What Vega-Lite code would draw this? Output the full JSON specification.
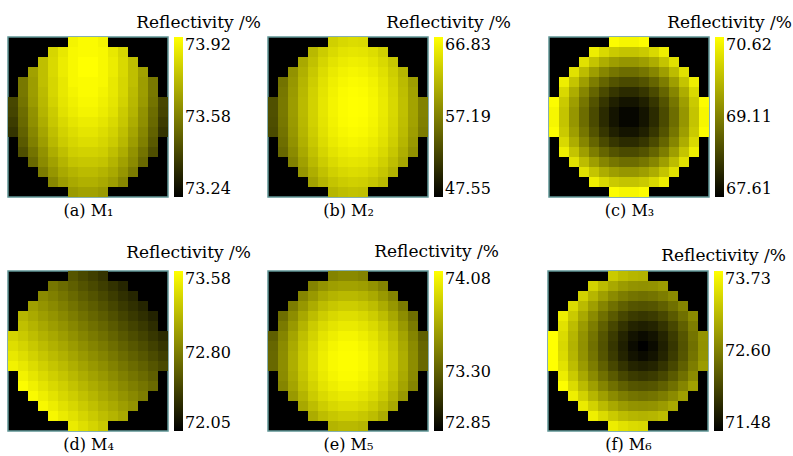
{
"$schema":"https://vega.github.io/schema/vega-lite/v6.json",
"background":"white",
"padding":{"left":7,"top":13,"right":0,"bottom":2},
"config":{
 "font":"DejaVu Serif",
 "view":{"fill":"#000000","stroke":"#5f9595","strokeWidth":1.5},
 "title":{"font":"DejaVu Serif","fontSize":17,"fontWeight":"normal","color":"#000000"},
 "axis":{"labels":false,"ticks":false,"domain":false,"grid":false,"titleFont":"DejaVu Serif","titleFontSize":16,"titleFontWeight":"normal","titleColor":"#000000","titlePadding":5},
 "legend":{"orient":"right","offset":6,"padding":0,"gradientLength":160,"gradientThickness":9,"gradientStrokeWidth":0,"labelFont":"DejaVu Serif","labelFontSize":16,"labelColor":"#000000","labelOffset":7,"labelOverlap":false}
},
"datasets":{
"a":[
{"x":6,"y":0,"v":73.89},{"x":7,"y":0,"v":73.91},{"x":8,"y":0,"v":73.91},{"x":9,"y":0,"v":73.89},
{"x":4,"y":1,"v":73.81},{"x":5,"y":1,"v":73.86},{"x":6,"y":1,"v":73.90},{"x":7,"y":1,"v":73.91},{"x":8,"y":1,"v":73.91},{"x":9,"y":1,"v":73.90},{"x":10,"y":1,"v":73.86},{"x":11,"y":1,"v":73.81},
{"x":3,"y":2,"v":73.75},{"x":4,"y":2,"v":73.82},{"x":5,"y":2,"v":73.87},{"x":6,"y":2,"v":73.90},{"x":7,"y":2,"v":73.92},{"x":8,"y":2,"v":73.92},{"x":9,"y":2,"v":73.90},{"x":10,"y":2,"v":73.87},{"x":11,"y":2,"v":73.82},{"x":12,"y":2,"v":73.75},
{"x":2,"y":3,"v":73.67},{"x":3,"y":3,"v":73.75},{"x":4,"y":3,"v":73.82},{"x":5,"y":3,"v":73.87},{"x":6,"y":3,"v":73.90},{"x":7,"y":3,"v":73.92},{"x":8,"y":3,"v":73.92},{"x":9,"y":3,"v":73.90},{"x":10,"y":3,"v":73.87},{"x":11,"y":3,"v":73.82},{"x":12,"y":3,"v":73.75},{"x":13,"y":3,"v":73.67},
{"x":1,"y":4,"v":73.56},{"x":2,"y":4,"v":73.66},{"x":3,"y":4,"v":73.75},{"x":4,"y":4,"v":73.81},{"x":5,"y":4,"v":73.86},{"x":6,"y":4,"v":73.90},{"x":7,"y":4,"v":73.91},{"x":8,"y":4,"v":73.91},{"x":9,"y":4,"v":73.90},{"x":10,"y":4,"v":73.86},{"x":11,"y":4,"v":73.81},{"x":12,"y":4,"v":73.75},{"x":13,"y":4,"v":73.66},{"x":14,"y":4,"v":73.56},
{"x":1,"y":5,"v":73.56},{"x":2,"y":5,"v":73.66},{"x":3,"y":5,"v":73.74},{"x":4,"y":5,"v":73.81},{"x":5,"y":5,"v":73.86},{"x":6,"y":5,"v":73.89},{"x":7,"y":5,"v":73.91},{"x":8,"y":5,"v":73.91},{"x":9,"y":5,"v":73.89},{"x":10,"y":5,"v":73.86},{"x":11,"y":5,"v":73.81},{"x":12,"y":5,"v":73.74},{"x":13,"y":5,"v":73.66},{"x":14,"y":5,"v":73.56},
{"x":0,"y":6,"v":73.43},{"x":1,"y":6,"v":73.55},{"x":2,"y":6,"v":73.65},{"x":3,"y":6,"v":73.73},{"x":4,"y":6,"v":73.80},{"x":5,"y":6,"v":73.85},{"x":6,"y":6,"v":73.88},{"x":7,"y":6,"v":73.90},{"x":8,"y":6,"v":73.90},{"x":9,"y":6,"v":73.88},{"x":10,"y":6,"v":73.85},{"x":11,"y":6,"v":73.80},{"x":12,"y":6,"v":73.73},{"x":13,"y":6,"v":73.65},{"x":14,"y":6,"v":73.55},{"x":15,"y":6,"v":73.43},
{"x":0,"y":7,"v":73.42},{"x":1,"y":7,"v":73.53},{"x":2,"y":7,"v":73.63},{"x":3,"y":7,"v":73.72},{"x":4,"y":7,"v":73.78},{"x":5,"y":7,"v":73.84},{"x":6,"y":7,"v":73.87},{"x":7,"y":7,"v":73.89},{"x":8,"y":7,"v":73.89},{"x":9,"y":7,"v":73.87},{"x":10,"y":7,"v":73.84},{"x":11,"y":7,"v":73.78},{"x":12,"y":7,"v":73.72},{"x":13,"y":7,"v":73.63},{"x":14,"y":7,"v":73.53},{"x":15,"y":7,"v":73.42},
{"x":0,"y":8,"v":73.40},{"x":1,"y":8,"v":73.52},{"x":2,"y":8,"v":73.62},{"x":3,"y":8,"v":73.70},{"x":4,"y":8,"v":73.77},{"x":5,"y":8,"v":73.82},{"x":6,"y":8,"v":73.85},{"x":7,"y":8,"v":73.87},{"x":8,"y":8,"v":73.87},{"x":9,"y":8,"v":73.85},{"x":10,"y":8,"v":73.82},{"x":11,"y":8,"v":73.77},{"x":12,"y":8,"v":73.70},{"x":13,"y":8,"v":73.62},{"x":14,"y":8,"v":73.52},{"x":15,"y":8,"v":73.40},
{"x":0,"y":9,"v":73.38},{"x":1,"y":9,"v":73.50},{"x":2,"y":9,"v":73.60},{"x":3,"y":9,"v":73.68},{"x":4,"y":9,"v":73.75},{"x":5,"y":9,"v":73.80},{"x":6,"y":9,"v":73.83},{"x":7,"y":9,"v":73.85},{"x":8,"y":9,"v":73.85},{"x":9,"y":9,"v":73.83},{"x":10,"y":9,"v":73.80},{"x":11,"y":9,"v":73.75},{"x":12,"y":9,"v":73.68},{"x":13,"y":9,"v":73.60},{"x":14,"y":9,"v":73.50},{"x":15,"y":9,"v":73.38},
{"x":1,"y":10,"v":73.48},{"x":2,"y":10,"v":73.58},{"x":3,"y":10,"v":73.66},{"x":4,"y":10,"v":73.73},{"x":5,"y":10,"v":73.78},{"x":6,"y":10,"v":73.81},{"x":7,"y":10,"v":73.83},{"x":8,"y":10,"v":73.83},{"x":9,"y":10,"v":73.81},{"x":10,"y":10,"v":73.78},{"x":11,"y":10,"v":73.73},{"x":12,"y":10,"v":73.66},{"x":13,"y":10,"v":73.58},{"x":14,"y":10,"v":73.48},
{"x":1,"y":11,"v":73.45},{"x":2,"y":11,"v":73.55},{"x":3,"y":11,"v":73.63},{"x":4,"y":11,"v":73.70},{"x":5,"y":11,"v":73.75},{"x":6,"y":11,"v":73.79},{"x":7,"y":11,"v":73.80},{"x":8,"y":11,"v":73.80},{"x":9,"y":11,"v":73.79},{"x":10,"y":11,"v":73.75},{"x":11,"y":11,"v":73.70},{"x":12,"y":11,"v":73.63},{"x":13,"y":11,"v":73.55},{"x":14,"y":11,"v":73.45},
{"x":2,"y":12,"v":73.52},{"x":3,"y":12,"v":73.61},{"x":4,"y":12,"v":73.67},{"x":5,"y":12,"v":73.72},{"x":6,"y":12,"v":73.76},{"x":7,"y":12,"v":73.77},{"x":8,"y":12,"v":73.77},{"x":9,"y":12,"v":73.76},{"x":10,"y":12,"v":73.72},{"x":11,"y":12,"v":73.67},{"x":12,"y":12,"v":73.61},{"x":13,"y":12,"v":73.52},
{"x":3,"y":13,"v":73.57},{"x":4,"y":13,"v":73.64},{"x":5,"y":13,"v":73.69},{"x":6,"y":13,"v":73.72},{"x":7,"y":13,"v":73.74},{"x":8,"y":13,"v":73.74},{"x":9,"y":13,"v":73.72},{"x":10,"y":13,"v":73.69},{"x":11,"y":13,"v":73.64},{"x":12,"y":13,"v":73.57},
{"x":4,"y":14,"v":73.60},{"x":5,"y":14,"v":73.66},{"x":6,"y":14,"v":73.69},{"x":7,"y":14,"v":73.71},{"x":8,"y":14,"v":73.71},{"x":9,"y":14,"v":73.69},{"x":10,"y":14,"v":73.66},{"x":11,"y":14,"v":73.60},
{"x":6,"y":15,"v":73.65},{"x":7,"y":15,"v":73.67},{"x":8,"y":15,"v":73.67},{"x":9,"y":15,"v":73.65}
],
"b":[
{"x":6,"y":0,"v":63.24},{"x":7,"y":0,"v":63.90},{"x":8,"y":0,"v":64.15},{"x":9,"y":0,"v":64.00},
{"x":4,"y":1,"v":61.51},{"x":5,"y":1,"v":62.97},{"x":6,"y":1,"v":64.03},{"x":7,"y":1,"v":64.69},{"x":8,"y":1,"v":64.94},{"x":9,"y":1,"v":64.79},{"x":10,"y":1,"v":64.25},{"x":11,"y":1,"v":63.28},
{"x":3,"y":2,"v":60.33},{"x":4,"y":2,"v":62.16},{"x":5,"y":2,"v":63.63},{"x":6,"y":2,"v":64.69},{"x":7,"y":2,"v":65.35},{"x":8,"y":2,"v":65.60},{"x":9,"y":2,"v":65.44},{"x":10,"y":2,"v":64.90},{"x":11,"y":2,"v":63.94},{"x":12,"y":2,"v":62.57},
{"x":2,"y":3,"v":58.58},{"x":3,"y":3,"v":60.85},{"x":4,"y":3,"v":62.69},{"x":5,"y":3,"v":64.15},{"x":6,"y":3,"v":65.21},{"x":7,"y":3,"v":65.87},{"x":8,"y":3,"v":66.12},{"x":9,"y":3,"v":65.96},{"x":10,"y":3,"v":65.42},{"x":11,"y":3,"v":64.46},{"x":12,"y":3,"v":63.09},{"x":13,"y":3,"v":61.32},
{"x":1,"y":4,"v":56.28},{"x":2,"y":4,"v":58.96},{"x":3,"y":4,"v":61.24},{"x":4,"y":4,"v":63.07},{"x":5,"y":4,"v":64.54},{"x":6,"y":4,"v":65.60},{"x":7,"y":4,"v":66.25},{"x":8,"y":4,"v":66.50},{"x":9,"y":4,"v":66.35},{"x":10,"y":4,"v":65.81},{"x":11,"y":4,"v":64.84},{"x":12,"y":4,"v":63.48},{"x":13,"y":4,"v":61.70},{"x":14,"y":4,"v":59.52},
{"x":1,"y":5,"v":56.54},{"x":2,"y":5,"v":59.22},{"x":3,"y":5,"v":61.49},{"x":4,"y":5,"v":63.32},{"x":5,"y":5,"v":64.79},{"x":6,"y":5,"v":65.85},{"x":7,"y":5,"v":66.50},{"x":8,"y":5,"v":66.75},{"x":9,"y":5,"v":66.60},{"x":10,"y":5,"v":66.06},{"x":11,"y":5,"v":65.10},{"x":12,"y":5,"v":63.73},{"x":13,"y":5,"v":61.95},{"x":14,"y":5,"v":59.77},
{"x":0,"y":6,"v":53.60},{"x":1,"y":6,"v":56.67},{"x":2,"y":6,"v":59.35},{"x":3,"y":6,"v":61.63},{"x":4,"y":6,"v":63.46},{"x":5,"y":6,"v":64.92},{"x":6,"y":6,"v":65.98},{"x":7,"y":6,"v":66.64},{"x":8,"y":6,"v":66.83},{"x":9,"y":6,"v":66.73},{"x":10,"y":6,"v":66.19},{"x":11,"y":6,"v":65.23},{"x":12,"y":6,"v":63.86},{"x":13,"y":6,"v":62.09},{"x":14,"y":6,"v":59.91},{"x":15,"y":6,"v":57.35},
{"x":0,"y":7,"v":53.60},{"x":1,"y":7,"v":56.67},{"x":2,"y":7,"v":59.35},{"x":3,"y":7,"v":61.63},{"x":4,"y":7,"v":63.46},{"x":5,"y":7,"v":64.92},{"x":6,"y":7,"v":65.98},{"x":7,"y":7,"v":66.64},{"x":8,"y":7,"v":66.83},{"x":9,"y":7,"v":66.73},{"x":10,"y":7,"v":66.19},{"x":11,"y":7,"v":65.23},{"x":12,"y":7,"v":63.86},{"x":13,"y":7,"v":62.09},{"x":14,"y":7,"v":59.91},{"x":15,"y":7,"v":57.35},
{"x":0,"y":8,"v":53.47},{"x":1,"y":8,"v":56.54},{"x":2,"y":8,"v":59.22},{"x":3,"y":8,"v":61.49},{"x":4,"y":8,"v":63.32},{"x":5,"y":8,"v":64.79},{"x":6,"y":8,"v":65.85},{"x":7,"y":8,"v":66.50},{"x":8,"y":8,"v":66.75},{"x":9,"y":8,"v":66.60},{"x":10,"y":8,"v":66.06},{"x":11,"y":8,"v":65.10},{"x":12,"y":8,"v":63.73},{"x":13,"y":8,"v":61.95},{"x":14,"y":8,"v":59.77},{"x":15,"y":8,"v":57.21},
{"x":0,"y":9,"v":53.22},{"x":1,"y":9,"v":56.28},{"x":2,"y":9,"v":58.96},{"x":3,"y":9,"v":61.24},{"x":4,"y":9,"v":63.07},{"x":5,"y":9,"v":64.54},{"x":6,"y":9,"v":65.60},{"x":7,"y":9,"v":66.25},{"x":8,"y":9,"v":66.50},{"x":9,"y":9,"v":66.35},{"x":10,"y":9,"v":65.81},{"x":11,"y":9,"v":64.84},{"x":12,"y":9,"v":63.48},{"x":13,"y":9,"v":61.70},{"x":14,"y":9,"v":59.52},{"x":15,"y":9,"v":56.96},
{"x":1,"y":10,"v":55.90},{"x":2,"y":10,"v":58.58},{"x":3,"y":10,"v":60.85},{"x":4,"y":10,"v":62.69},{"x":5,"y":10,"v":64.15},{"x":6,"y":10,"v":65.21},{"x":7,"y":10,"v":65.87},{"x":8,"y":10,"v":66.12},{"x":9,"y":10,"v":65.96},{"x":10,"y":10,"v":65.42},{"x":11,"y":10,"v":64.46},{"x":12,"y":10,"v":63.09},{"x":13,"y":10,"v":61.32},{"x":14,"y":10,"v":59.14},
{"x":1,"y":11,"v":55.38},{"x":2,"y":11,"v":58.06},{"x":3,"y":11,"v":60.33},{"x":4,"y":11,"v":62.16},{"x":5,"y":11,"v":63.63},{"x":6,"y":11,"v":64.69},{"x":7,"y":11,"v":65.35},{"x":8,"y":11,"v":65.60},{"x":9,"y":11,"v":65.44},{"x":10,"y":11,"v":64.90},{"x":11,"y":11,"v":63.94},{"x":12,"y":11,"v":62.57},{"x":13,"y":11,"v":60.80},{"x":14,"y":11,"v":58.62},
{"x":2,"y":12,"v":57.40},{"x":3,"y":12,"v":59.68},{"x":4,"y":12,"v":61.51},{"x":5,"y":12,"v":62.97},{"x":6,"y":12,"v":64.03},{"x":7,"y":12,"v":64.69},{"x":8,"y":12,"v":64.94},{"x":9,"y":12,"v":64.79},{"x":10,"y":12,"v":64.25},{"x":11,"y":12,"v":63.28},{"x":12,"y":12,"v":61.91},{"x":13,"y":12,"v":60.14},
{"x":3,"y":13,"v":58.89},{"x":4,"y":13,"v":60.72},{"x":5,"y":13,"v":62.18},{"x":6,"y":13,"v":63.24},{"x":7,"y":13,"v":63.90},{"x":8,"y":13,"v":64.15},{"x":9,"y":13,"v":64.00},{"x":10,"y":13,"v":63.46},{"x":11,"y":13,"v":62.49},{"x":12,"y":13,"v":61.12},
{"x":4,"y":14,"v":59.81},{"x":5,"y":14,"v":61.28},{"x":6,"y":14,"v":62.34},{"x":7,"y":14,"v":62.99},{"x":8,"y":14,"v":63.24},{"x":9,"y":14,"v":63.09},{"x":10,"y":14,"v":62.55},{"x":11,"y":14,"v":61.59},
{"x":6,"y":15,"v":61.30},{"x":7,"y":15,"v":61.95},{"x":8,"y":15,"v":62.20},{"x":9,"y":15,"v":62.05}
],
"c":[
{"x":6,"y":0,"v":70.59},{"x":7,"y":0,"v":70.51},{"x":8,"y":0,"v":70.51},{"x":9,"y":0,"v":70.59},
{"x":4,"y":1,"v":70.42},{"x":5,"y":1,"v":70.17},{"x":6,"y":1,"v":70.00},{"x":7,"y":1,"v":69.92},{"x":8,"y":1,"v":69.92},{"x":9,"y":1,"v":70.00},{"x":10,"y":1,"v":70.17},{"x":11,"y":1,"v":70.42},
{"x":3,"y":2,"v":70.26},{"x":4,"y":2,"v":69.92},{"x":5,"y":2,"v":69.65},{"x":6,"y":2,"v":69.47},{"x":7,"y":2,"v":69.38},{"x":8,"y":2,"v":69.38},{"x":9,"y":2,"v":69.47},{"x":10,"y":2,"v":69.65},{"x":11,"y":2,"v":69.92},{"x":12,"y":2,"v":70.26},
{"x":2,"y":3,"v":70.26},{"x":3,"y":3,"v":69.83},{"x":4,"y":3,"v":69.47},{"x":5,"y":3,"v":69.19},{"x":6,"y":3,"v":69.00},{"x":7,"y":3,"v":68.90},{"x":8,"y":3,"v":68.90},{"x":9,"y":3,"v":69.00},{"x":10,"y":3,"v":69.19},{"x":11,"y":3,"v":69.47},{"x":12,"y":3,"v":69.83},{"x":13,"y":3,"v":70.26},
{"x":1,"y":4,"v":70.42},{"x":2,"y":4,"v":69.92},{"x":3,"y":4,"v":69.47},{"x":4,"y":4,"v":69.09},{"x":5,"y":4,"v":68.80},{"x":6,"y":4,"v":68.59},{"x":7,"y":4,"v":68.48},{"x":8,"y":4,"v":68.48},{"x":9,"y":4,"v":68.59},{"x":10,"y":4,"v":68.80},{"x":11,"y":4,"v":69.09},{"x":12,"y":4,"v":69.47},{"x":13,"y":4,"v":69.92},{"x":14,"y":4,"v":70.42},
{"x":1,"y":5,"v":70.17},{"x":2,"y":5,"v":69.65},{"x":3,"y":5,"v":69.19},{"x":4,"y":5,"v":68.80},{"x":5,"y":5,"v":68.48},{"x":6,"y":5,"v":68.25},{"x":7,"y":5,"v":68.12},{"x":8,"y":5,"v":68.12},{"x":9,"y":5,"v":68.25},{"x":10,"y":5,"v":68.48},{"x":11,"y":5,"v":68.80},{"x":12,"y":5,"v":69.19},{"x":13,"y":5,"v":69.65},{"x":14,"y":5,"v":70.17},
{"x":0,"y":6,"v":70.59},{"x":1,"y":6,"v":70.00},{"x":2,"y":6,"v":69.47},{"x":3,"y":6,"v":69.00},{"x":4,"y":6,"v":68.59},{"x":5,"y":6,"v":68.25},{"x":6,"y":6,"v":67.99},{"x":7,"y":6,"v":67.85},{"x":8,"y":6,"v":67.85},{"x":9,"y":6,"v":67.99},{"x":10,"y":6,"v":68.25},{"x":11,"y":6,"v":68.59},{"x":12,"y":6,"v":69.00},{"x":13,"y":6,"v":69.47},{"x":14,"y":6,"v":70.00},{"x":15,"y":6,"v":70.59},
{"x":0,"y":7,"v":70.51},{"x":1,"y":7,"v":69.92},{"x":2,"y":7,"v":69.38},{"x":3,"y":7,"v":68.90},{"x":4,"y":7,"v":68.48},{"x":5,"y":7,"v":68.12},{"x":6,"y":7,"v":67.85},{"x":7,"y":7,"v":67.68},{"x":8,"y":7,"v":67.68},{"x":9,"y":7,"v":67.85},{"x":10,"y":7,"v":68.12},{"x":11,"y":7,"v":68.48},{"x":12,"y":7,"v":68.90},{"x":13,"y":7,"v":69.38},{"x":14,"y":7,"v":69.92},{"x":15,"y":7,"v":70.51},
{"x":0,"y":8,"v":70.51},{"x":1,"y":8,"v":69.92},{"x":2,"y":8,"v":69.38},{"x":3,"y":8,"v":68.90},{"x":4,"y":8,"v":68.48},{"x":5,"y":8,"v":68.12},{"x":6,"y":8,"v":67.85},{"x":7,"y":8,"v":67.68},{"x":8,"y":8,"v":67.68},{"x":9,"y":8,"v":67.85},{"x":10,"y":8,"v":68.12},{"x":11,"y":8,"v":68.48},{"x":12,"y":8,"v":68.90},{"x":13,"y":8,"v":69.38},{"x":14,"y":8,"v":69.92},{"x":15,"y":8,"v":70.51},
{"x":0,"y":9,"v":70.59},{"x":1,"y":9,"v":70.00},{"x":2,"y":9,"v":69.47},{"x":3,"y":9,"v":69.00},{"x":4,"y":9,"v":68.59},{"x":5,"y":9,"v":68.25},{"x":6,"y":9,"v":67.99},{"x":7,"y":9,"v":67.85},{"x":8,"y":9,"v":67.85},{"x":9,"y":9,"v":67.99},{"x":10,"y":9,"v":68.25},{"x":11,"y":9,"v":68.59},{"x":12,"y":9,"v":69.00},{"x":13,"y":9,"v":69.47},{"x":14,"y":9,"v":70.00},{"x":15,"y":9,"v":70.59},
{"x":1,"y":10,"v":70.17},{"x":2,"y":10,"v":69.65},{"x":3,"y":10,"v":69.19},{"x":4,"y":10,"v":68.80},{"x":5,"y":10,"v":68.48},{"x":6,"y":10,"v":68.25},{"x":7,"y":10,"v":68.12},{"x":8,"y":10,"v":68.12},{"x":9,"y":10,"v":68.25},{"x":10,"y":10,"v":68.48},{"x":11,"y":10,"v":68.80},{"x":12,"y":10,"v":69.19},{"x":13,"y":10,"v":69.65},{"x":14,"y":10,"v":70.17},
{"x":1,"y":11,"v":70.42},{"x":2,"y":11,"v":69.92},{"x":3,"y":11,"v":69.47},{"x":4,"y":11,"v":69.09},{"x":5,"y":11,"v":68.80},{"x":6,"y":11,"v":68.59},{"x":7,"y":11,"v":68.48},{"x":8,"y":11,"v":68.48},{"x":9,"y":11,"v":68.59},{"x":10,"y":11,"v":68.80},{"x":11,"y":11,"v":69.09},{"x":12,"y":11,"v":69.47},{"x":13,"y":11,"v":69.92},{"x":14,"y":11,"v":70.42},
{"x":2,"y":12,"v":70.26},{"x":3,"y":12,"v":69.83},{"x":4,"y":12,"v":69.47},{"x":5,"y":12,"v":69.19},{"x":6,"y":12,"v":69.00},{"x":7,"y":12,"v":68.90},{"x":8,"y":12,"v":68.90},{"x":9,"y":12,"v":69.00},{"x":10,"y":12,"v":69.19},{"x":11,"y":12,"v":69.47},{"x":12,"y":12,"v":69.83},{"x":13,"y":12,"v":70.26},
{"x":3,"y":13,"v":70.26},{"x":4,"y":13,"v":69.92},{"x":5,"y":13,"v":69.65},{"x":6,"y":13,"v":69.47},{"x":7,"y":13,"v":69.38},{"x":8,"y":13,"v":69.38},{"x":9,"y":13,"v":69.47},{"x":10,"y":13,"v":69.65},{"x":11,"y":13,"v":69.92},{"x":12,"y":13,"v":70.26},
{"x":4,"y":14,"v":70.42},{"x":5,"y":14,"v":70.17},{"x":6,"y":14,"v":70.00},{"x":7,"y":14,"v":69.92},{"x":8,"y":14,"v":69.92},{"x":9,"y":14,"v":70.00},{"x":10,"y":14,"v":70.17},{"x":11,"y":14,"v":70.42},
{"x":6,"y":15,"v":70.59},{"x":7,"y":15,"v":70.51},{"x":8,"y":15,"v":70.51},{"x":9,"y":15,"v":70.59}
],
"d":[
{"x":6,"y":0,"v":72.56},{"x":7,"y":0,"v":72.49},{"x":8,"y":0,"v":72.43},{"x":9,"y":0,"v":72.36},
{"x":4,"y":1,"v":72.76},{"x":5,"y":1,"v":72.69},{"x":6,"y":1,"v":72.62},{"x":7,"y":1,"v":72.55},{"x":8,"y":1,"v":72.49},{"x":9,"y":1,"v":72.42},{"x":10,"y":1,"v":72.35},{"x":11,"y":1,"v":72.28},
{"x":3,"y":2,"v":72.88},{"x":4,"y":2,"v":72.82},{"x":5,"y":2,"v":72.75},{"x":6,"y":2,"v":72.68},{"x":7,"y":2,"v":72.61},{"x":8,"y":2,"v":72.55},{"x":9,"y":2,"v":72.48},{"x":10,"y":2,"v":72.41},{"x":11,"y":2,"v":72.34},{"x":12,"y":2,"v":72.28},
{"x":2,"y":3,"v":73.01},{"x":3,"y":3,"v":72.94},{"x":4,"y":3,"v":72.88},{"x":5,"y":3,"v":72.81},{"x":6,"y":3,"v":72.74},{"x":7,"y":3,"v":72.67},{"x":8,"y":3,"v":72.61},{"x":9,"y":3,"v":72.54},{"x":10,"y":3,"v":72.47},{"x":11,"y":3,"v":72.40},{"x":12,"y":3,"v":72.34},{"x":13,"y":3,"v":72.27},
{"x":1,"y":4,"v":73.14},{"x":2,"y":4,"v":73.07},{"x":3,"y":4,"v":73.00},{"x":4,"y":4,"v":72.94},{"x":5,"y":4,"v":72.87},{"x":6,"y":4,"v":72.80},{"x":7,"y":4,"v":72.73},{"x":8,"y":4,"v":72.66},{"x":9,"y":4,"v":72.60},{"x":10,"y":4,"v":72.53},{"x":11,"y":4,"v":72.46},{"x":12,"y":4,"v":72.39},{"x":13,"y":4,"v":72.33},{"x":14,"y":4,"v":72.26},
{"x":1,"y":5,"v":73.20},{"x":2,"y":5,"v":73.13},{"x":3,"y":5,"v":73.06},{"x":4,"y":5,"v":72.99},{"x":5,"y":5,"v":72.93},{"x":6,"y":5,"v":72.86},{"x":7,"y":5,"v":72.79},{"x":8,"y":5,"v":72.72},{"x":9,"y":5,"v":72.66},{"x":10,"y":5,"v":72.59},{"x":11,"y":5,"v":72.52},{"x":12,"y":5,"v":72.45},{"x":13,"y":5,"v":72.39},{"x":14,"y":5,"v":72.32},
{"x":0,"y":6,"v":73.32},{"x":1,"y":6,"v":73.26},{"x":2,"y":6,"v":73.19},{"x":3,"y":6,"v":73.12},{"x":4,"y":6,"v":73.06},{"x":5,"y":6,"v":72.99},{"x":6,"y":6,"v":72.92},{"x":7,"y":6,"v":72.85},{"x":8,"y":6,"v":72.78},{"x":9,"y":6,"v":72.72},{"x":10,"y":6,"v":72.65},{"x":11,"y":6,"v":72.58},{"x":12,"y":6,"v":72.51},{"x":13,"y":6,"v":72.45},{"x":14,"y":6,"v":72.38},{"x":15,"y":6,"v":72.31},
{"x":0,"y":7,"v":73.38},{"x":1,"y":7,"v":73.32},{"x":2,"y":7,"v":73.25},{"x":3,"y":7,"v":73.18},{"x":4,"y":7,"v":73.11},{"x":5,"y":7,"v":73.05},{"x":6,"y":7,"v":72.98},{"x":7,"y":7,"v":72.91},{"x":8,"y":7,"v":72.84},{"x":9,"y":7,"v":72.78},{"x":10,"y":7,"v":72.71},{"x":11,"y":7,"v":72.64},{"x":12,"y":7,"v":72.57},{"x":13,"y":7,"v":72.51},{"x":14,"y":7,"v":72.44},{"x":15,"y":7,"v":72.37},
{"x":0,"y":8,"v":73.44},{"x":1,"y":8,"v":73.38},{"x":2,"y":8,"v":73.31},{"x":3,"y":8,"v":73.24},{"x":4,"y":8,"v":73.17},{"x":5,"y":8,"v":73.11},{"x":6,"y":8,"v":73.04},{"x":7,"y":8,"v":72.97},{"x":8,"y":8,"v":72.90},{"x":9,"y":8,"v":72.84},{"x":10,"y":8,"v":72.77},{"x":11,"y":8,"v":72.70},{"x":12,"y":8,"v":72.63},{"x":13,"y":8,"v":72.57},{"x":14,"y":8,"v":72.50},{"x":15,"y":8,"v":72.43},
{"x":0,"y":9,"v":73.50},{"x":1,"y":9,"v":73.44},{"x":2,"y":9,"v":73.37},{"x":3,"y":9,"v":73.30},{"x":4,"y":9,"v":73.23},{"x":5,"y":9,"v":73.17},{"x":6,"y":9,"v":73.10},{"x":7,"y":9,"v":73.03},{"x":8,"y":9,"v":72.96},{"x":9,"y":9,"v":72.90},{"x":10,"y":9,"v":72.83},{"x":11,"y":9,"v":72.76},{"x":12,"y":9,"v":72.69},{"x":13,"y":9,"v":72.63},{"x":14,"y":9,"v":72.56},{"x":15,"y":9,"v":72.49},
{"x":1,"y":10,"v":73.50},{"x":2,"y":10,"v":73.43},{"x":3,"y":10,"v":73.36},{"x":4,"y":10,"v":73.29},{"x":5,"y":10,"v":73.23},{"x":6,"y":10,"v":73.16},{"x":7,"y":10,"v":73.09},{"x":8,"y":10,"v":73.02},{"x":9,"y":10,"v":72.96},{"x":10,"y":10,"v":72.89},{"x":11,"y":10,"v":72.82},{"x":12,"y":10,"v":72.75},{"x":13,"y":10,"v":72.69},{"x":14,"y":10,"v":72.62},
{"x":1,"y":11,"v":73.56},{"x":2,"y":11,"v":73.49},{"x":3,"y":11,"v":73.42},{"x":4,"y":11,"v":73.35},{"x":5,"y":11,"v":73.29},{"x":6,"y":11,"v":73.22},{"x":7,"y":11,"v":73.15},{"x":8,"y":11,"v":73.08},{"x":9,"y":11,"v":73.02},{"x":10,"y":11,"v":72.95},{"x":11,"y":11,"v":72.88},{"x":12,"y":11,"v":72.81},{"x":13,"y":11,"v":72.75},{"x":14,"y":11,"v":72.68},
{"x":2,"y":12,"v":73.55},{"x":3,"y":12,"v":73.48},{"x":4,"y":12,"v":73.41},{"x":5,"y":12,"v":73.34},{"x":6,"y":12,"v":73.28},{"x":7,"y":12,"v":73.21},{"x":8,"y":12,"v":73.14},{"x":9,"y":12,"v":73.07},{"x":10,"y":12,"v":73.01},{"x":11,"y":12,"v":72.94},{"x":12,"y":12,"v":72.87},{"x":13,"y":12,"v":72.80},
{"x":3,"y":13,"v":73.54},{"x":4,"y":13,"v":73.47},{"x":5,"y":13,"v":73.40},{"x":6,"y":13,"v":73.34},{"x":7,"y":13,"v":73.27},{"x":8,"y":13,"v":73.20},{"x":9,"y":13,"v":73.13},{"x":10,"y":13,"v":73.07},{"x":11,"y":13,"v":73.00},{"x":12,"y":13,"v":72.93},
{"x":4,"y":14,"v":73.53},{"x":5,"y":14,"v":73.46},{"x":6,"y":14,"v":73.40},{"x":7,"y":14,"v":73.33},{"x":8,"y":14,"v":73.26},{"x":9,"y":14,"v":73.19},{"x":10,"y":14,"v":73.13},{"x":11,"y":14,"v":73.06},
{"x":6,"y":15,"v":73.46},{"x":7,"y":15,"v":73.39},{"x":8,"y":15,"v":73.32},{"x":9,"y":15,"v":73.25}
],
"e":[
{"x":6,"y":0,"v":73.48},{"x":7,"y":0,"v":73.51},{"x":8,"y":0,"v":73.51},{"x":9,"y":0,"v":73.48},
{"x":4,"y":1,"v":73.48},{"x":5,"y":1,"v":73.56},{"x":6,"y":1,"v":73.61},{"x":7,"y":1,"v":73.63},{"x":8,"y":1,"v":73.63},{"x":9,"y":1,"v":73.61},{"x":10,"y":1,"v":73.56},{"x":11,"y":1,"v":73.48},
{"x":3,"y":2,"v":73.49},{"x":4,"y":2,"v":73.59},{"x":5,"y":2,"v":73.67},{"x":6,"y":2,"v":73.72},{"x":7,"y":2,"v":73.74},{"x":8,"y":2,"v":73.74},{"x":9,"y":2,"v":73.72},{"x":10,"y":2,"v":73.67},{"x":11,"y":2,"v":73.59},{"x":12,"y":2,"v":73.49},
{"x":2,"y":3,"v":73.45},{"x":3,"y":3,"v":73.58},{"x":4,"y":3,"v":73.68},{"x":5,"y":3,"v":73.76},{"x":6,"y":3,"v":73.81},{"x":7,"y":3,"v":73.84},{"x":8,"y":3,"v":73.84},{"x":9,"y":3,"v":73.81},{"x":10,"y":3,"v":73.76},{"x":11,"y":3,"v":73.68},{"x":12,"y":3,"v":73.58},{"x":13,"y":3,"v":73.45},
{"x":1,"y":4,"v":73.38},{"x":2,"y":4,"v":73.53},{"x":3,"y":4,"v":73.66},{"x":4,"y":4,"v":73.76},{"x":5,"y":4,"v":73.84},{"x":6,"y":4,"v":73.89},{"x":7,"y":4,"v":73.92},{"x":8,"y":4,"v":73.92},{"x":9,"y":4,"v":73.89},{"x":10,"y":4,"v":73.84},{"x":11,"y":4,"v":73.76},{"x":12,"y":4,"v":73.66},{"x":13,"y":4,"v":73.53},{"x":14,"y":4,"v":73.38},
{"x":1,"y":5,"v":73.44},{"x":2,"y":5,"v":73.59},{"x":3,"y":5,"v":73.72},{"x":4,"y":5,"v":73.83},{"x":5,"y":5,"v":73.90},{"x":6,"y":5,"v":73.95},{"x":7,"y":5,"v":73.98},{"x":8,"y":5,"v":73.98},{"x":9,"y":5,"v":73.95},{"x":10,"y":5,"v":73.90},{"x":11,"y":5,"v":73.83},{"x":12,"y":5,"v":73.72},{"x":13,"y":5,"v":73.59},{"x":14,"y":5,"v":73.44},
{"x":0,"y":6,"v":73.31},{"x":1,"y":6,"v":73.49},{"x":2,"y":6,"v":73.64},{"x":3,"y":6,"v":73.77},{"x":4,"y":6,"v":73.87},{"x":5,"y":6,"v":73.95},{"x":6,"y":6,"v":74.00},{"x":7,"y":6,"v":74.03},{"x":8,"y":6,"v":74.03},{"x":9,"y":6,"v":74.00},{"x":10,"y":6,"v":73.95},{"x":11,"y":6,"v":73.87},{"x":12,"y":6,"v":73.77},{"x":13,"y":6,"v":73.64},{"x":14,"y":6,"v":73.49},{"x":15,"y":6,"v":73.31},
{"x":0,"y":7,"v":73.34},{"x":1,"y":7,"v":73.52},{"x":2,"y":7,"v":73.67},{"x":3,"y":7,"v":73.80},{"x":4,"y":7,"v":73.90},{"x":5,"y":7,"v":73.98},{"x":6,"y":7,"v":74.03},{"x":7,"y":7,"v":74.06},{"x":8,"y":7,"v":74.06},{"x":9,"y":7,"v":74.03},{"x":10,"y":7,"v":73.98},{"x":11,"y":7,"v":73.90},{"x":12,"y":7,"v":73.80},{"x":13,"y":7,"v":73.67},{"x":14,"y":7,"v":73.52},{"x":15,"y":7,"v":73.34},
{"x":0,"y":8,"v":73.35},{"x":1,"y":8,"v":73.53},{"x":2,"y":8,"v":73.69},{"x":3,"y":8,"v":73.82},{"x":4,"y":8,"v":73.92},{"x":5,"y":8,"v":74.00},{"x":6,"y":8,"v":74.05},{"x":7,"y":8,"v":74.07},{"x":8,"y":8,"v":74.07},{"x":9,"y":8,"v":74.05},{"x":10,"y":8,"v":74.00},{"x":11,"y":8,"v":73.92},{"x":12,"y":8,"v":73.82},{"x":13,"y":8,"v":73.69},{"x":14,"y":8,"v":73.53},{"x":15,"y":8,"v":73.35},
{"x":0,"y":9,"v":73.35},{"x":1,"y":9,"v":73.53},{"x":2,"y":9,"v":73.69},{"x":3,"y":9,"v":73.82},{"x":4,"y":9,"v":73.92},{"x":5,"y":9,"v":74.00},{"x":6,"y":9,"v":74.05},{"x":7,"y":9,"v":74.07},{"x":8,"y":9,"v":74.07},{"x":9,"y":9,"v":74.05},{"x":10,"y":9,"v":74.00},{"x":11,"y":9,"v":73.92},{"x":12,"y":9,"v":73.82},{"x":13,"y":9,"v":73.69},{"x":14,"y":9,"v":73.53},{"x":15,"y":9,"v":73.35},
{"x":1,"y":10,"v":73.52},{"x":2,"y":10,"v":73.67},{"x":3,"y":10,"v":73.80},{"x":4,"y":10,"v":73.90},{"x":5,"y":10,"v":73.98},{"x":6,"y":10,"v":74.03},{"x":7,"y":10,"v":74.06},{"x":8,"y":10,"v":74.06},{"x":9,"y":10,"v":74.03},{"x":10,"y":10,"v":73.98},{"x":11,"y":10,"v":73.90},{"x":12,"y":10,"v":73.80},{"x":13,"y":10,"v":73.67},{"x":14,"y":10,"v":73.52},
{"x":1,"y":11,"v":73.49},{"x":2,"y":11,"v":73.64},{"x":3,"y":11,"v":73.77},{"x":4,"y":11,"v":73.87},{"x":5,"y":11,"v":73.95},{"x":6,"y":11,"v":74.00},{"x":7,"y":11,"v":74.03},{"x":8,"y":11,"v":74.03},{"x":9,"y":11,"v":74.00},{"x":10,"y":11,"v":73.95},{"x":11,"y":11,"v":73.87},{"x":12,"y":11,"v":73.77},{"x":13,"y":11,"v":73.64},{"x":14,"y":11,"v":73.49},
{"x":2,"y":12,"v":73.59},{"x":3,"y":12,"v":73.72},{"x":4,"y":12,"v":73.83},{"x":5,"y":12,"v":73.90},{"x":6,"y":12,"v":73.95},{"x":7,"y":12,"v":73.98},{"x":8,"y":12,"v":73.98},{"x":9,"y":12,"v":73.95},{"x":10,"y":12,"v":73.90},{"x":11,"y":12,"v":73.83},{"x":12,"y":12,"v":73.72},{"x":13,"y":12,"v":73.59},
{"x":3,"y":13,"v":73.66},{"x":4,"y":13,"v":73.76},{"x":5,"y":13,"v":73.84},{"x":6,"y":13,"v":73.89},{"x":7,"y":13,"v":73.92},{"x":8,"y":13,"v":73.92},{"x":9,"y":13,"v":73.89},{"x":10,"y":13,"v":73.84},{"x":11,"y":13,"v":73.76},{"x":12,"y":13,"v":73.66},
{"x":4,"y":14,"v":73.68},{"x":5,"y":14,"v":73.76},{"x":6,"y":14,"v":73.81},{"x":7,"y":14,"v":73.84},{"x":8,"y":14,"v":73.84},{"x":9,"y":14,"v":73.81},{"x":10,"y":14,"v":73.76},{"x":11,"y":14,"v":73.68},
{"x":6,"y":15,"v":73.72},{"x":7,"y":15,"v":73.74},{"x":8,"y":15,"v":73.74},{"x":9,"y":15,"v":73.72}
],
"f":[
{"x":6,"y":0,"v":73.26},{"x":7,"y":0,"v":73.15},{"x":8,"y":0,"v":73.09},{"x":9,"y":0,"v":73.06},
{"x":4,"y":1,"v":73.33},{"x":5,"y":1,"v":73.13},{"x":6,"y":1,"v":72.97},{"x":7,"y":1,"v":72.85},{"x":8,"y":1,"v":72.78},{"x":9,"y":1,"v":72.76},{"x":10,"y":1,"v":72.78},{"x":11,"y":1,"v":72.85},
{"x":3,"y":2,"v":73.33},{"x":4,"y":2,"v":73.09},{"x":5,"y":2,"v":72.88},{"x":6,"y":2,"v":72.71},{"x":7,"y":2,"v":72.58},{"x":8,"y":2,"v":72.50},{"x":9,"y":2,"v":72.47},{"x":10,"y":2,"v":72.50},{"x":11,"y":2,"v":72.58},{"x":12,"y":2,"v":72.71},
{"x":2,"y":3,"v":73.41},{"x":3,"y":3,"v":73.13},{"x":4,"y":3,"v":72.88},{"x":5,"y":3,"v":72.65},{"x":6,"y":3,"v":72.47},{"x":7,"y":3,"v":72.33},{"x":8,"y":3,"v":72.23},{"x":9,"y":3,"v":72.20},{"x":10,"y":3,"v":72.23},{"x":11,"y":3,"v":72.33},{"x":12,"y":3,"v":72.47},{"x":13,"y":3,"v":72.65},
{"x":1,"y":4,"v":73.57},{"x":2,"y":4,"v":73.26},{"x":3,"y":4,"v":72.97},{"x":4,"y":4,"v":72.71},{"x":5,"y":4,"v":72.47},{"x":6,"y":4,"v":72.27},{"x":7,"y":4,"v":72.11},{"x":8,"y":4,"v":72.00},{"x":9,"y":4,"v":71.96},{"x":10,"y":4,"v":72.00},{"x":11,"y":4,"v":72.11},{"x":12,"y":4,"v":72.27},{"x":13,"y":4,"v":72.47},{"x":14,"y":4,"v":72.71},
{"x":1,"y":5,"v":73.47},{"x":2,"y":5,"v":73.15},{"x":3,"y":5,"v":72.85},{"x":4,"y":5,"v":72.58},{"x":5,"y":5,"v":72.33},{"x":6,"y":5,"v":72.11},{"x":7,"y":5,"v":71.93},{"x":8,"y":5,"v":71.80},{"x":9,"y":5,"v":71.75},{"x":10,"y":5,"v":71.80},{"x":11,"y":5,"v":71.93},{"x":12,"y":5,"v":72.11},{"x":13,"y":5,"v":72.33},{"x":14,"y":5,"v":72.58},
{"x":0,"y":6,"v":73.73},{"x":1,"y":6,"v":73.41},{"x":2,"y":6,"v":73.09},{"x":3,"y":6,"v":72.78},{"x":4,"y":6,"v":72.50},{"x":5,"y":6,"v":72.23},{"x":6,"y":6,"v":72.00},{"x":7,"y":6,"v":71.80},{"x":8,"y":6,"v":71.65},{"x":9,"y":6,"v":71.58},{"x":10,"y":6,"v":71.65},{"x":11,"y":6,"v":71.80},{"x":12,"y":6,"v":72.00},{"x":13,"y":6,"v":72.23},{"x":14,"y":6,"v":72.50},{"x":15,"y":6,"v":72.78},
{"x":0,"y":7,"v":73.73},{"x":1,"y":7,"v":73.39},{"x":2,"y":7,"v":73.06},{"x":3,"y":7,"v":72.76},{"x":4,"y":7,"v":72.47},{"x":5,"y":7,"v":72.20},{"x":6,"y":7,"v":71.96},{"x":7,"y":7,"v":71.75},{"x":8,"y":7,"v":71.58},{"x":9,"y":7,"v":71.48},{"x":10,"y":7,"v":71.58},{"x":11,"y":7,"v":71.75},{"x":12,"y":7,"v":71.96},{"x":13,"y":7,"v":72.20},{"x":14,"y":7,"v":72.47},{"x":15,"y":7,"v":72.76},
{"x":0,"y":8,"v":73.73},{"x":1,"y":8,"v":73.41},{"x":2,"y":8,"v":73.09},{"x":3,"y":8,"v":72.78},{"x":4,"y":8,"v":72.50},{"x":5,"y":8,"v":72.23},{"x":6,"y":8,"v":72.00},{"x":7,"y":8,"v":71.80},{"x":8,"y":8,"v":71.65},{"x":9,"y":8,"v":71.58},{"x":10,"y":8,"v":71.65},{"x":11,"y":8,"v":71.80},{"x":12,"y":8,"v":72.00},{"x":13,"y":8,"v":72.23},{"x":14,"y":8,"v":72.50},{"x":15,"y":8,"v":72.78},
{"x":0,"y":9,"v":73.73},{"x":1,"y":9,"v":73.47},{"x":2,"y":9,"v":73.15},{"x":3,"y":9,"v":72.85},{"x":4,"y":9,"v":72.58},{"x":5,"y":9,"v":72.33},{"x":6,"y":9,"v":72.11},{"x":7,"y":9,"v":71.93},{"x":8,"y":9,"v":71.80},{"x":9,"y":9,"v":71.75},{"x":10,"y":9,"v":71.80},{"x":11,"y":9,"v":71.93},{"x":12,"y":9,"v":72.11},{"x":13,"y":9,"v":72.33},{"x":14,"y":9,"v":72.58},{"x":15,"y":9,"v":72.85},
{"x":1,"y":10,"v":73.57},{"x":2,"y":10,"v":73.26},{"x":3,"y":10,"v":72.97},{"x":4,"y":10,"v":72.71},{"x":5,"y":10,"v":72.47},{"x":6,"y":10,"v":72.27},{"x":7,"y":10,"v":72.11},{"x":8,"y":10,"v":72.00},{"x":9,"y":10,"v":71.96},{"x":10,"y":10,"v":72.00},{"x":11,"y":10,"v":72.11},{"x":12,"y":10,"v":72.27},{"x":13,"y":10,"v":72.47},{"x":14,"y":10,"v":72.71},
{"x":1,"y":11,"v":73.71},{"x":2,"y":11,"v":73.41},{"x":3,"y":11,"v":73.13},{"x":4,"y":11,"v":72.88},{"x":5,"y":11,"v":72.65},{"x":6,"y":11,"v":72.47},{"x":7,"y":11,"v":72.33},{"x":8,"y":11,"v":72.23},{"x":9,"y":11,"v":72.20},{"x":10,"y":11,"v":72.23},{"x":11,"y":11,"v":72.33},{"x":12,"y":11,"v":72.47},{"x":13,"y":11,"v":72.65},{"x":14,"y":11,"v":72.88},
{"x":2,"y":12,"v":73.59},{"x":3,"y":12,"v":73.33},{"x":4,"y":12,"v":73.09},{"x":5,"y":12,"v":72.88},{"x":6,"y":12,"v":72.71},{"x":7,"y":12,"v":72.58},{"x":8,"y":12,"v":72.50},{"x":9,"y":12,"v":72.47},{"x":10,"y":12,"v":72.50},{"x":11,"y":12,"v":72.58},{"x":12,"y":12,"v":72.71},{"x":13,"y":12,"v":72.88},
{"x":3,"y":13,"v":73.55},{"x":4,"y":13,"v":73.33},{"x":5,"y":13,"v":73.13},{"x":6,"y":13,"v":72.97},{"x":7,"y":13,"v":72.85},{"x":8,"y":13,"v":72.78},{"x":9,"y":13,"v":72.76},{"x":10,"y":13,"v":72.78},{"x":11,"y":13,"v":72.85},{"x":12,"y":13,"v":72.97},
{"x":4,"y":14,"v":73.59},{"x":5,"y":14,"v":73.41},{"x":6,"y":14,"v":73.26},{"x":7,"y":14,"v":73.15},{"x":8,"y":14,"v":73.09},{"x":9,"y":14,"v":73.06},{"x":10,"y":14,"v":73.09},{"x":11,"y":14,"v":73.15},
{"x":6,"y":15,"v":73.57},{"x":7,"y":15,"v":73.47},{"x":8,"y":15,"v":73.41},{"x":9,"y":15,"v":73.39}
]
},
"vconcat":[
{"hconcat":[
 {"hconcat":[
  {"width":160,"height":160,"data":{"name":"a"},
   "title":{"text":"Reflectivity /%","anchor":"end","frame":"group","dx":93,"offset":-8,"baseline":"alphabetic"},
   "mark":{"type":"rect"},
   "encoding":{
    "x":{"field":"x","type":"ordinal","scale":{"domain":[0,1,2,3,4,5,6,7,8,9,10,11,12,13,14,15],"paddingInner":0,"paddingOuter":0},"axis":{"title":"(a) M₁"}},
    "y":{"field":"y","type":"ordinal","scale":{"domain":[0,1,2,3,4,5,6,7,8,9,10,11,12,13,14,15],"paddingInner":0,"paddingOuter":0},"axis":null},
    "color":{"field":"v","type":"quantitative","scale":{"domain":[73.24,73.92],"range":["#000000","#ffff00"],"interpolate":"rgb"},"legend":{"title":null,"values":[73.24,73.58,73.92],"format":".2f"}}
   }},
  {"width":160,"height":160,"data":{"name":"b"},
   "title":{"text":"Reflectivity /%","anchor":"end","frame":"group","dx":83,"offset":-8,"baseline":"alphabetic"},
   "mark":{"type":"rect"},
   "encoding":{
    "x":{"field":"x","type":"ordinal","scale":{"domain":[0,1,2,3,4,5,6,7,8,9,10,11,12,13,14,15],"paddingInner":0,"paddingOuter":0},"axis":{"title":"(b) M₂"}},
    "y":{"field":"y","type":"ordinal","scale":{"domain":[0,1,2,3,4,5,6,7,8,9,10,11,12,13,14,15],"paddingInner":0,"paddingOuter":0},"axis":null},
    "color":{"field":"v","type":"quantitative","scale":{"domain":[47.55,66.83],"range":["#000000","#ffff00"],"interpolate":"rgb"},"legend":{"title":null,"values":[47.55,57.19,66.83],"format":".2f"}}
   }}
 ],"spacing":5,"resolve":{"scale":{"color":"independent"},"legend":{"color":"independent"}}},
 {"width":160,"height":160,"data":{"name":"c"},
  "title":{"text":"Reflectivity /%","anchor":"end","frame":"group","dx":83,"offset":-8,"baseline":"alphabetic"},
  "mark":{"type":"rect"},
  "encoding":{
   "x":{"field":"x","type":"ordinal","scale":{"domain":[0,1,2,3,4,5,6,7,8,9,10,11,12,13,14,15],"paddingInner":0,"paddingOuter":0},"axis":{"title":"(c) M₃"}},
   "y":{"field":"y","type":"ordinal","scale":{"domain":[0,1,2,3,4,5,6,7,8,9,10,11,12,13,14,15],"paddingInner":0,"paddingOuter":0},"axis":null},
   "color":{"field":"v","type":"quantitative","scale":{"domain":[67.61,70.62],"range":["#000000","#ffff00"],"interpolate":"rgb"},"legend":{"title":null,"values":[67.61,69.11,70.62],"format":".2f"}}
  }}
],"spacing":36,"resolve":{"scale":{"color":"independent"},"legend":{"color":"independent"}}},
{"hconcat":[
 {"hconcat":[
  {"width":160,"height":160,"data":{"name":"d"},
   "title":{"text":"Reflectivity /%","anchor":"end","frame":"group","dx":83,"offset":-4,"baseline":"alphabetic"},
   "mark":{"type":"rect"},
   "encoding":{
    "x":{"field":"x","type":"ordinal","scale":{"domain":[0,1,2,3,4,5,6,7,8,9,10,11,12,13,14,15],"paddingInner":0,"paddingOuter":0},"axis":{"title":"(d) M₄"}},
    "y":{"field":"y","type":"ordinal","scale":{"domain":[0,1,2,3,4,5,6,7,8,9,10,11,12,13,14,15],"paddingInner":0,"paddingOuter":0},"axis":null},
    "color":{"field":"v","type":"quantitative","scale":{"domain":[72.05,73.58],"range":["#000000","#ffff00"],"interpolate":"rgb"},"legend":{"title":null,"values":[72.05,72.80,73.58],"format":".2f"}}
   }},
  {"width":160,"height":160,"data":{"name":"e"},
   "title":{"text":"Reflectivity /%","anchor":"end","frame":"group","dx":71,"offset":-3,"baseline":"alphabetic"},
   "mark":{"type":"rect"},
   "encoding":{
    "x":{"field":"x","type":"ordinal","scale":{"domain":[0,1,2,3,4,5,6,7,8,9,10,11,12,13,14,15],"paddingInner":0,"paddingOuter":0},"axis":{"title":"(e) M₅"}},
    "y":{"field":"y","type":"ordinal","scale":{"domain":[0,1,2,3,4,5,6,7,8,9,10,11,12,13,14,15],"paddingInner":0,"paddingOuter":0},"axis":null},
    "color":{"field":"v","type":"quantitative","scale":{"domain":[72.85,74.08],"range":["#000000","#ffff00"],"interpolate":"rgb"},"legend":{"title":null,"values":[72.85,73.30,74.08],"format":".2f"}}
   }}
 ],"spacing":15,"resolve":{"scale":{"color":"independent"},"legend":{"color":"independent"}}},
 {"width":160,"height":160,"data":{"name":"f"},
  "title":{"text":"Reflectivity /%","anchor":"end","frame":"group","dx":78,"offset":-7,"baseline":"alphabetic"},
  "mark":{"type":"rect"},
  "encoding":{
   "x":{"field":"x","type":"ordinal","scale":{"domain":[0,1,2,3,4,5,6,7,8,9,10,11,12,13,14,15],"paddingInner":0,"paddingOuter":0},"axis":{"title":"(f) M₆"}},
   "y":{"field":"y","type":"ordinal","scale":{"domain":[0,1,2,3,4,5,6,7,8,9,10,11,12,13,14,15],"paddingInner":0,"paddingOuter":0},"axis":null},
   "color":{"field":"v","type":"quantitative","scale":{"domain":[71.48,73.73],"range":["#000000","#ffff00"],"interpolate":"rgb"},"legend":{"title":null,"values":[71.48,72.60,73.73],"format":".2f"}}
  }}
],"spacing":47,"resolve":{"scale":{"color":"independent"},"legend":{"color":"independent"}}}
],
"spacing":23,
"resolve":{"scale":{"color":"independent"},"legend":{"color":"independent"}}
}
